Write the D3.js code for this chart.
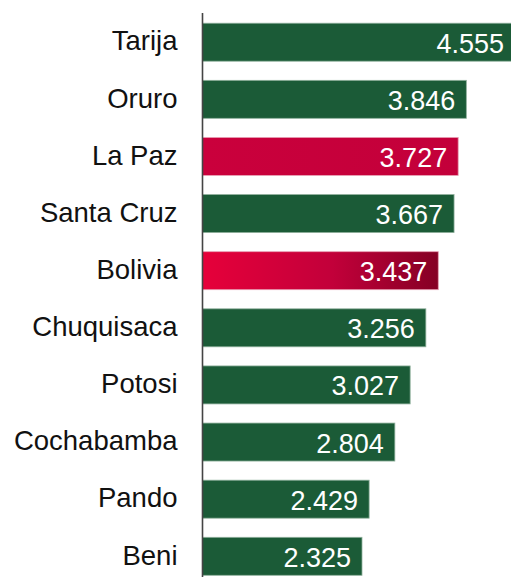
<!DOCTYPE html>
<html><head><meta charset="utf-8">
<script src="https://cdn.jsdelivr.net/npm/d3@7"></script>
<style>html,body{margin:0;padding:0;background:#fff;overflow:hidden}</style>
</head><body>
<svg id="c" width="511" height="577"></svg>
<script>
const categories = ["Tarija","Oruro","La Paz","Santa Cruz","Bolivia","Chuquisaca","Potosi","Cochabamba","Pando","Beni"];
const values = [4.555,3.846,3.727,3.667,3.437,3.256,3.027,2.804,2.429,2.325];
const highlight = ["La Paz","Bolivia"];

const svg = d3.select("#c");
const x0 = 202.5;
const x = d3.scaleLinear().domain([0, 1]).range([x0, x0 + 68.6]);
const y = d3.scaleBand().domain(categories).range([13.5, 585]).paddingInner(0.335).paddingOuter(0.17);

const defs = svg.append("defs");
const gLP = defs.append("linearGradient").attr("id","gLP").attr("x1","0").attr("x2","1").attr("y1","0").attr("y2","0");
gLP.append("stop").attr("offset","0").attr("stop-color","#ca003c");
gLP.append("stop").attr("offset","1").attr("stop-color","#c3003a");
const gBo = defs.append("linearGradient").attr("id","gBo").attr("x1","0").attr("x2","1").attr("y1","0").attr("y2","0");
gBo.append("stop").attr("offset","0").attr("stop-color","#e6003a");
gBo.append("stop").attr("offset","0.55").attr("stop-color","#c2003a");
gBo.append("stop").attr("offset","1").attr("stop-color","#850024");

const fillOf = c => c === "La Paz" ? "url(#gLP)" : c === "Bolivia" ? "url(#gBo)" : "#1b5b37";
const strokeOf = c => highlight.includes(c) ? "#e8a0b4" : "#8fb09c";

const data = categories.map((c,i)=>({c, v: values[i]}));

svg.append("g").selectAll("rect").data(data).join("rect")
  .attr("x", x(0))
  .attr("y", d => y(d.c))
  .attr("width", d => x(d.v) - x(0))
  .attr("height", y.bandwidth())
  .attr("fill", d => fillOf(d.c))
  .attr("stroke", d => strokeOf(d.c))
  .attr("stroke-width", 0.8);

svg.append("g").selectAll("text").data(data).join("text")
  .attr("x", d => x(d.v) - 11)
  .attr("y", d => y(d.c) + y.bandwidth()/2 + 1)
  .attr("dy", "0.35em")
  .attr("text-anchor", "end")
  .attr("fill", "#fff")
  .style("font-family", "'Liberation Sans', Arial, sans-serif")
  .style("font-size", "27px")
  .text(d => d3.format(".3f")(d.v));

const yAxis = d3.axisLeft(y).tickSize(0).tickPadding(25);
const ga = svg.append("g").attr("transform", `translate(${x0},0)`).call(yAxis);
ga.select(".domain").remove();
ga.selectAll("text")
  .style("font-family", "'Liberation Sans', Arial, sans-serif")
  .style("font-size", "27.5px")
  .attr("fill", "#111")
  .attr("dy", "0.3em");

svg.append("line").attr("x1", x0).attr("x2", x0).attr("y1", 13).attr("y2", 577)
  .attr("stroke", "#444").attr("stroke-width", 1.6);
</script>
</body></html>
